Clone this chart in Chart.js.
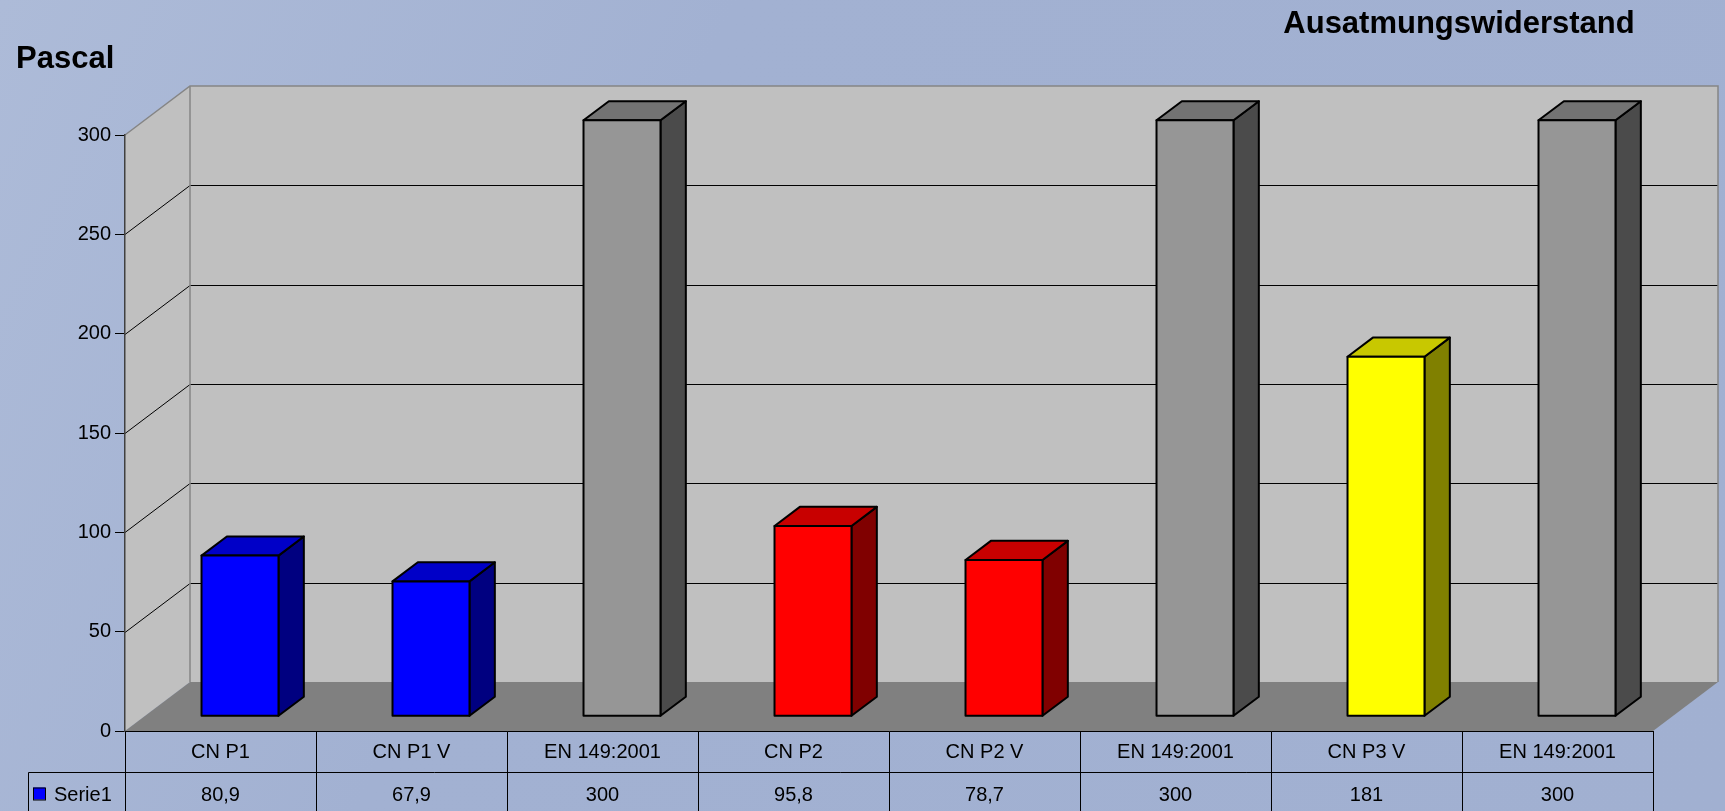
<!DOCTYPE html>
<html>
<head>
<meta charset="utf-8">
<title>Ausatmungswiderstand</title>
<script src="https://cdn.jsdelivr.net/npm/chart.js@4"></script>
<style>
  html, body { margin:0; padding:0; background:#a2b1d2; overflow:hidden; }
  #wrap { width:1725px; height:811px; }
</style>
</head>
<body>
<div id="wrap"><canvas id="chart" width="1725" height="811"></canvas></div>
<script>
// ---- data ----
const categories = ['CN P1', 'CN P1 V', 'EN 149:2001', 'CN P2', 'CN P2 V', 'EN 149:2001', 'CN P3 V', 'EN 149:2001'];
const values = [80.9, 67.9, 300, 95.8, 78.7, 300, 181, 300];
const seriesName = 'Serie1';
const yMin = 0, yMax = 300, yStep = 50;
const frontColors = ['#0000ff', '#0000ff', '#969696', '#ff0000', '#ff0000', '#969696', '#ffff00', '#969696'];
const topColors   = ['#0000c8', '#0000c8', '#737373', '#c80000', '#c80000', '#737373', '#c8c800', '#737373'];
const sideColors  = ['#000080', '#000080', '#4b4b4b', '#800000', '#800000', '#4b4b4b', '#808000', '#4b4b4b'];

// 3d look: depth of the floor, and where the bars sit in it
const DX = 65, DY = 49;
const BAR_Z = 0.3, BAR_D = 0.39;
const FONT = "'Liberation Sans', Arial, sans-serif";

const fmt = v => String(v).replace('.', ',');

function poly(ctx, pts, fill, stroke, lw) {
  ctx.beginPath();
  ctx.moveTo(pts[0][0], pts[0][1]);
  for (let i = 1; i < pts.length; i++) ctx.lineTo(pts[i][0], pts[i][1]);
  ctx.closePath();
  if (fill) { ctx.fillStyle = fill; ctx.fill(); }
  if (stroke) { ctx.strokeStyle = stroke; ctx.lineWidth = lw || 1; ctx.stroke(); }
}

const excel3d = {
  id: 'excel3d',
  beforeDraw(chart) {
    const { ctx, chartArea: a, scales: { y } } = chart;
    const W = chart.width, H = chart.height;
    ctx.save();
    const g = ctx.createLinearGradient(0, 0, W, H);
    g.addColorStop(0, '#adbbd8');
    g.addColorStop(0.35, '#a2b1d2');
    g.addColorStop(1, '#a1b0d1');
    ctx.fillStyle = g;
    ctx.fillRect(0, 0, W, H);

    const y0 = y.getPixelForValue(yMin), yT = y.getPixelForValue(yMax);
    // back wall
    ctx.fillStyle = '#c0c0c0';
    ctx.fillRect(a.left + DX, yT - DY, a.right - a.left, y0 - yT);
    // left wall
    poly(ctx, [[a.left, yT], [a.left + DX, yT - DY], [a.left + DX, y0 - DY], [a.left, y0]], '#c0c0c0');
    // floor
    poly(ctx, [[a.left, y0], [a.right, y0], [a.right + DX, y0 - DY], [a.left + DX, y0 - DY]], '#808080');

    // gridlines
    ctx.lineWidth = 1;
    for (let v = yMin + yStep; v < yMax; v += yStep) {
      const py = Math.round(y.getPixelForValue(v)) + 0.5;
      ctx.strokeStyle = '#000';
      ctx.beginPath();
      ctx.moveTo(a.left, py);
      ctx.lineTo(a.left + DX, py - DY);
      ctx.lineTo(a.right + DX, py - DY);
      ctx.stroke();
    }
    // wall edges
    ctx.strokeStyle = '#858585';
    ctx.lineWidth = 1.5;
    ctx.beginPath();
    ctx.moveTo(a.left, yT);
    ctx.lineTo(a.left + DX, yT - DY);
    ctx.lineTo(a.right + DX, yT - DY);
    ctx.lineTo(a.right + DX, y0 - DY);
    ctx.moveTo(a.left + DX, yT - DY);
    ctx.lineTo(a.left + DX, y0 - DY);
    ctx.stroke();
    ctx.restore();
  },
  afterDatasetsDraw(chart) {
    const ctx = chart.ctx;
    const meta = chart.getDatasetMeta(0);
    const fx = DX * BAR_Z, fy = DY * BAR_Z, bx = DX * BAR_D, by = DY * BAR_D;
    ctx.save();
    ctx.lineJoin = 'round';
    meta.data.forEach((el, i) => {
      const { x, y, base, width } = el.getProps(['x', 'y', 'base', 'width'], true);
      const L = x - width / 2 + fx, R = x + width / 2 + fx, T = y - fy, B = base - fy;
      poly(ctx, [[R, T], [R + bx, T - by], [R + bx, B - by], [R, B]], sideColors[i], '#000', 2);
      poly(ctx, [[L, T], [L + bx, T - by], [R + bx, T - by], [R, T]], topColors[i], '#000', 2);
      poly(ctx, [[L, T], [R, T], [R, B], [L, B]], frontColors[i], '#000', 2);
    });
    ctx.restore();
  },
  afterDraw(chart) {
    const { ctx, chartArea: a, scales: { x, y } } = chart;
    const H = chart.height;
    const y0 = Math.round(y.getPixelForValue(yMin)) + 0.5;
    const rowH = 41;
    const cw = (a.right - a.left) / categories.length;
    ctx.save();
    // table grid
    ctx.strokeStyle = '#000';
    ctx.lineWidth = 1;
    ctx.beginPath();
    for (let i = 0; i <= categories.length; i++) {
      const px = Math.round(x.getPixelForValue(i) - cw / 2) + 0.5;
      ctx.moveTo(px, y0);
      ctx.lineTo(px, H);
    }
    ctx.moveTo(28.5, y0 + rowH);
    ctx.lineTo(a.right, y0 + rowH);
    ctx.moveTo(28.5, y0 + rowH);
    ctx.lineTo(28.5, H);
    ctx.stroke();

    ctx.fillStyle = '#000';
    ctx.font = '20px ' + FONT;
    ctx.textAlign = 'center';
    ctx.textBaseline = 'alphabetic';
    categories.forEach((c, i) => {
      const px = x.getPixelForValue(i);
      ctx.fillText(c, px, y0 + 26);
      ctx.fillText(fmt(values[i]), px, y0 + 69);
    });
    // legend key
    ctx.fillStyle = frontColors[0];
    ctx.fillRect(33, y0 + 56, 12, 12);
    ctx.strokeRect(33.5, y0 + 56.5, 12, 12);
    ctx.fillStyle = '#000';
    ctx.textAlign = 'left';
    ctx.fillText(seriesName, 54, y0 + 69);

    // titles
    ctx.font = 'bold 31px ' + FONT;
    ctx.fillText('Pascal', 16, 68);
    ctx.textAlign = 'center';
    ctx.fillText('Ausatmungswiderstand', 1459, 33);
    ctx.restore();
  }
};

Chart.defaults.font.family = FONT;

new Chart(document.getElementById('chart'), {
  type: 'bar',
  data: {
    labels: categories,
    datasets: [{
      label: seriesName,
      data: values,
      backgroundColor: 'rgba(0,0,0,0)',
      borderWidth: 0,
      categoryPercentage: 1,
      barPercentage: 0.403
    }]
  },
  options: {
    responsive: false,
    animation: false,
    layout: { padding: { top: 135, right: 72, bottom: 0, left: 0 } },
    plugins: { legend: { display: false }, tooltip: { enabled: false }, title: { display: false } },
    scales: {
      x: {
        ticks: { display: false },
        grid: { display: false },
        border: { display: true, color: '#000', width: 1 },
        afterFit: s => { s.height = 80; }
      },
      y: {
        min: yMin, max: yMax,
        ticks: { stepSize: yStep, color: '#000', font: { size: 20 }, padding: 4 },
        grid: { drawOnChartArea: false, drawTicks: true, tickLength: 10, color: '#000' },
        border: { display: true, color: '#404040', width: 1.5 },
        afterFit: s => { s.width = 125; }
      }
    }
  },
  plugins: [excel3d]
});
</script>
</body>
</html>
